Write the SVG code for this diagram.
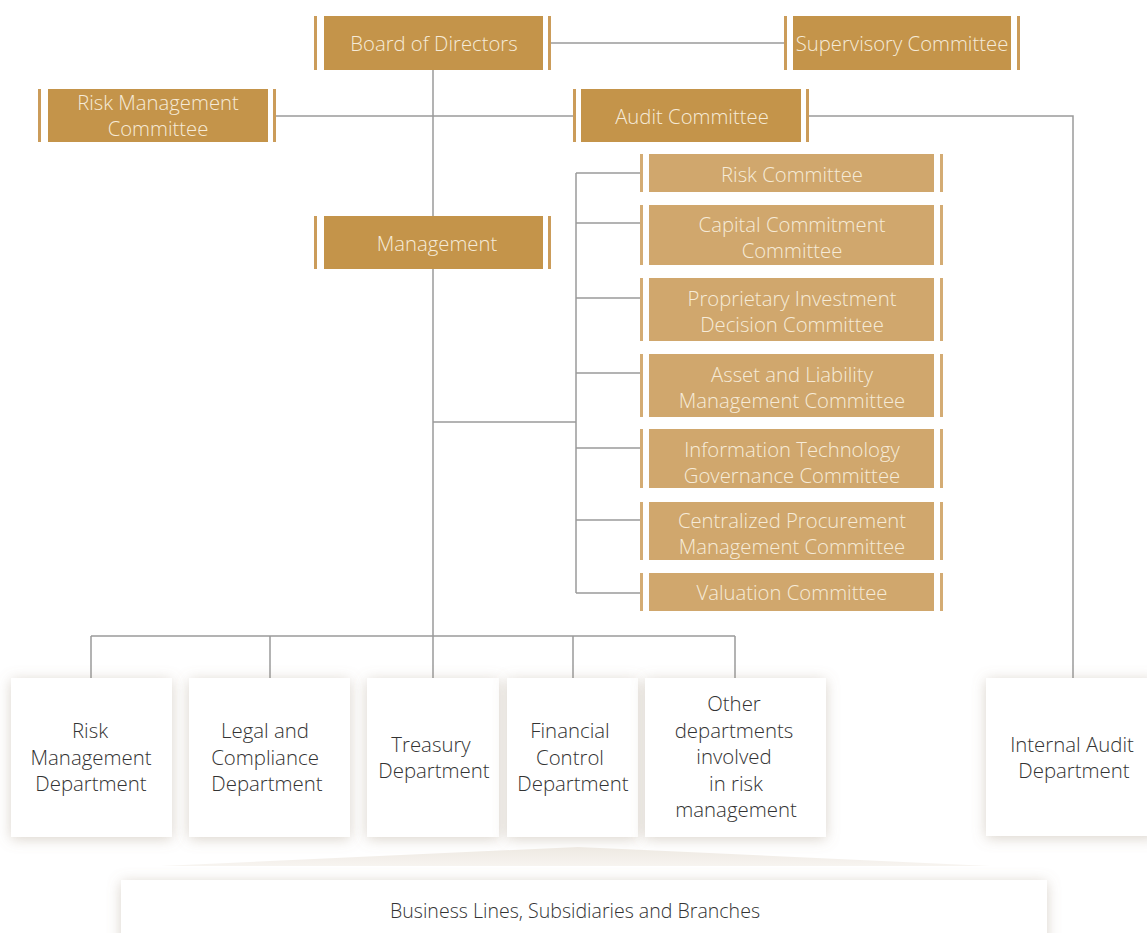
<svg xmlns="http://www.w3.org/2000/svg" width="1147" height="933" viewBox="0 0 1147 933">
<defs>
<style>
.dk{fill:#C4944A}
.lt{fill:#D0A76D}
.bar{fill:#CB9C5A}
.barl{fill:#D4AC74}
.tw{font-family:"Open Sans","Liberation Sans",sans-serif;font-weight:300;font-size:20.3px;fill:#F6EBD8;text-anchor:middle;dominant-baseline:central}
.tb{font-family:"Open Sans","Liberation Sans",sans-serif;font-weight:300;font-size:20.4px;fill:#333333;text-anchor:middle;dominant-baseline:central}
.wb{fill:#FFFFFF;filter:url(#sh)}
.ln{stroke:#9A9A9A;stroke-width:1.5;fill:none}
</style>
<filter id="sh" x="-20%" y="-20%" width="140%" height="140%">
<feDropShadow dx="0" dy="2" stdDeviation="7" flood-color="#9C8B74" flood-opacity="0.38"/>
</filter>
<linearGradient id="tg" x1="0" y1="0" x2="0" y2="1">
<stop offset="0" stop-color="#EEE9E2"/>
<stop offset="1" stop-color="#F7F4F0"/>
</linearGradient>
</defs>
<rect width="1147" height="933" fill="#FFFFFF"/>

<g id="connectors">
<path class="ln" d="M433 70V636"/>
<path class="ln" d="M549 43H785"/>
<path class="ln" d="M275 116H574"/>
<path class="ln" d="M808 116H1073V678"/>
<path class="ln" d="M433 422H576"/>
<path class="ln" d="M576 173V593"/>
<path class="ln" d="M576 173H641M576 223H641M576 298H641M576 373H641M576 448H641M576 520H641M576 593H641"/>
<path class="ln" d="M91 636H735"/>
<path class="ln" d="M91 636V678M270 636V678M433 636V678M573 636V678M735 636V678"/>
</g>

<g id="board">
<rect class="bar" x="314" y="16" width="3" height="54"/>
<rect class="dk" x="324" y="16" width="219" height="54"/>
<rect class="bar" x="548" y="16" width="3" height="54"/>
<text class="tw" x="434" y="43">Board of Directors</text>
</g>

<g id="supervisory">
<rect class="bar" x="784" y="16" width="3" height="54"/>
<rect class="dk" x="793" y="16" width="218" height="54"/>
<rect class="bar" x="1017" y="16" width="3" height="54"/>
<text class="tw" x="902" y="43">Supervisory Committee</text>
</g>

<g id="risk-mgmt-committee">
<rect class="bar" x="38" y="89" width="3" height="53"/>
<rect class="dk" x="48" y="89" width="220" height="53"/>
<rect class="bar" x="273" y="89" width="3" height="53"/>
<text class="tw" x="158" y="102">Risk Management</text>
<text class="tw" x="158" y="128">Committee</text>
</g>

<g id="audit-committee">
<rect class="bar" x="573" y="89" width="3" height="53"/>
<rect class="dk" x="581" y="89" width="220" height="53"/>
<rect class="bar" x="806" y="89" width="3" height="53"/>
<text class="tw" x="692" y="116">Audit Committee</text>
</g>

<g id="management">
<rect class="bar" x="314" y="216" width="3" height="53"/>
<rect class="dk" x="324" y="216" width="219" height="53"/>
<rect class="bar" x="548" y="216" width="3" height="53"/>
<text class="tw" x="437" y="243">Management</text>
</g>

<g id="risk-committee">
<rect class="barl" x="640" y="154" width="3" height="38"/>
<rect class="lt" x="649" y="154" width="285" height="38"/>
<rect class="barl" x="940" y="154" width="3" height="38"/>
<text class="tw" x="792" y="174">Risk Committee</text>
</g>

<g id="capital-commitment">
<rect class="barl" x="640" y="205" width="3" height="60"/>
<rect class="lt" x="649" y="205" width="285" height="60"/>
<rect class="barl" x="940" y="205" width="3" height="60"/>
<text class="tw" x="792" y="224">Capital Commitment</text>
<text class="tw" x="792" y="250">Committee</text>
</g>

<g id="proprietary">
<rect class="barl" x="640" y="278" width="3" height="63"/>
<rect class="lt" x="649" y="278" width="285" height="63"/>
<rect class="barl" x="940" y="278" width="3" height="63"/>
<text class="tw" x="792" y="298">Proprietary Investment</text>
<text class="tw" x="792" y="324">Decision Committee</text>
</g>

<g id="asset-liability">
<rect class="barl" x="640" y="354" width="3" height="63"/>
<rect class="lt" x="649" y="354" width="285" height="63"/>
<rect class="barl" x="940" y="354" width="3" height="63"/>
<text class="tw" x="792" y="374">Asset and Liability</text>
<text class="tw" x="792" y="400">Management Committee</text>
</g>

<g id="it-governance">
<rect class="barl" x="640" y="429" width="3" height="59"/>
<rect class="lt" x="649" y="429" width="285" height="59"/>
<rect class="barl" x="940" y="429" width="3" height="59"/>
<text class="tw" x="792" y="449">Information Technology</text>
<text class="tw" x="792" y="475">Governance Committee</text>
</g>

<g id="procurement">
<rect class="barl" x="640" y="502" width="3" height="58"/>
<rect class="lt" x="649" y="502" width="285" height="58"/>
<rect class="barl" x="940" y="502" width="3" height="58"/>
<text class="tw" x="792" y="520">Centralized Procurement</text>
<text class="tw" x="792" y="546">Management Committee</text>
</g>

<g id="valuation">
<rect class="barl" x="640" y="573" width="3" height="38"/>
<rect class="lt" x="649" y="573" width="285" height="38"/>
<rect class="barl" x="940" y="573" width="3" height="38"/>
<text class="tw" x="792" y="592">Valuation Committee</text>
</g>

<g id="risk-dept">
<rect class="wb" x="11" y="678" width="161" height="159"/>
<text class="tb" x="90" y="730">Risk</text>
<text class="tb" x="91" y="757">Management</text>
<text class="tb" x="91" y="783">Department</text>
</g>

<g id="legal-dept">
<rect class="wb" x="189" y="678" width="161" height="159"/>
<text class="tb" x="265" y="730">Legal and</text>
<text class="tb" x="265" y="757">Compliance</text>
<text class="tb" x="267" y="783">Department</text>
</g>

<g id="treasury-dept">
<rect class="wb" x="367" y="678" width="132" height="159"/>
<text class="tb" x="431" y="744">Treasury</text>
<text class="tb" x="434" y="770">Department</text>
</g>

<g id="financial-dept">
<rect class="wb" x="507" y="678" width="131" height="159"/>
<text class="tb" x="570" y="730">Financial</text>
<text class="tb" x="570" y="757">Control</text>
<text class="tb" x="573" y="783">Department</text>
</g>

<g id="other-dept">
<rect class="wb" x="645" y="678" width="181" height="159"/>
<text class="tb" x="734" y="703">Other</text>
<text class="tb" x="734" y="730">departments</text>
<text class="tb" x="734" y="756">involved</text>
<text class="tb" x="736" y="783">in risk</text>
<text class="tb" x="736" y="809">management</text>
</g>

<g id="internal-audit">
<rect class="wb" x="986" y="678" width="170" height="158"/>
<text class="tb" x="1072" y="744">Internal Audit</text>
<text class="tb" x="1074" y="770">Department</text>
</g>

<g id="business-lines">
<path d="M161 866L578 847L990 866Z" fill="url(#tg)"/>
<rect class="wb" x="121" y="880" width="926" height="70"/>
<text class="tb" x="575" y="910" textLength="370" lengthAdjust="spacingAndGlyphs">Business Lines, Subsidiaries and Branches</text>
</g>
</svg>
